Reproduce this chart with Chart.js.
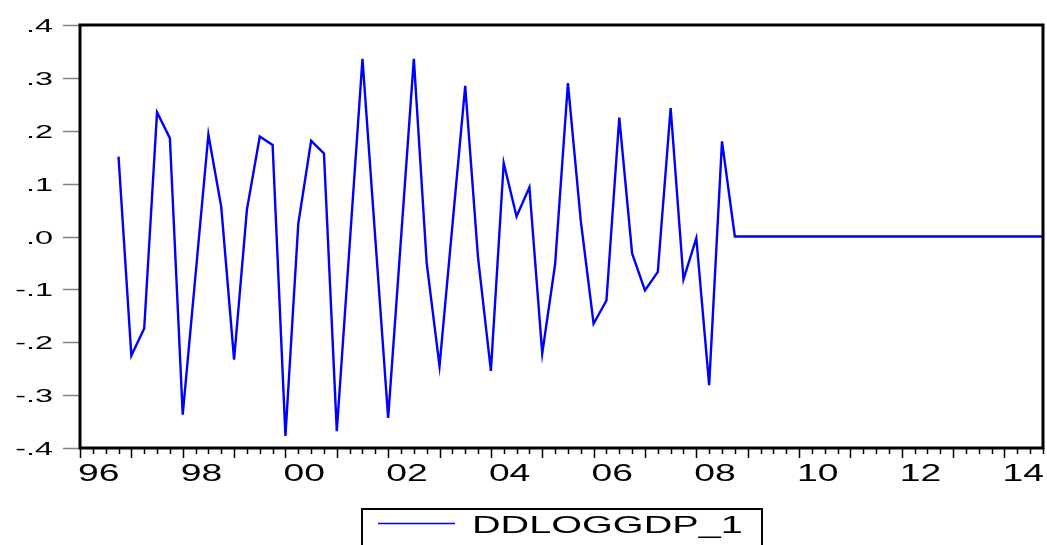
<!DOCTYPE html>
<html>
<head>
<meta charset="utf-8">
<script src="https://cdn.jsdelivr.net/npm/chart.js@4"></script>
<style>
  body { margin: 0; background: #fff; }
  canvas { display: block; }
</style>
</head>
<body>
<canvas id="grafico" width="1047" height="545"></canvas>
<script>
// ===== DADOS =====
const anos = ['1996','1997','1998','1999','2000','2001','2002','2003','2004','2005',
              '2006','2007','2008','2009','2010','2011','2012','2013','2014'];
const trimestres = [];
anos.forEach(a => ['Q1','Q2','Q3','Q4'].forEach(q => trimestres.push(a + q)));

const ddloggdp = [
  null, null, null, 0.151,          // 1996
  -0.225, -0.174, 0.235, 0.186,     // 1997
  -0.337, -0.072, 0.193, 0.056,     // 1998
  -0.233, 0.051, 0.189, 0.173,      // 1999
  -0.377, 0.024, 0.181, 0.157,      // 2000
  -0.368, -0.016, 0.336, -0.004,    // 2001
  -0.343, -0.004, 0.336, -0.050,    // 2002
  -0.245, 0.020, 0.285, -0.040,     // 2003
  -0.254, 0.139, 0.038, 0.093,      // 2004
  -0.221, -0.053, 0.290, 0.030,     // 2005
  -0.165, -0.121, 0.225, -0.032,    // 2006
  -0.102, -0.067, 0.243, -0.081,    // 2007
  -0.003, -0.281, 0.180, 0.000,     // 2008
  0, 0, 0, 0,  0, 0, 0, 0,  0, 0, 0, 0,   // 2009-2011
  0, 0, 0, 0,  0, 0, 0, 0,  0, 0, 0, 0    // 2012-2014
];

const yTicks = [0.4, 0.3, 0.2, 0.1, 0, -0.1, -0.2, -0.3, -0.4];
const yRotulos = ['.4', '.3', '.2', '.1', '.0', '-.1', '-.2', '-.3', '-.4'];
const xRotulos = ['96', '98', '00', '02', '04', '06', '08', '10', '12', '14'];
const xRotuloTrim = ['1996Q1','1998Q1','2000Q1','2002Q1','2004Q1','2006Q1','2008Q1','2010Q1','2012Q1','2014Q1'];
const nomeSerie = 'DDLOGGDP_1';

// ===== TEXTO ESTICADO (estilo EViews) =====
function textoEsticado(ctx, txt, x, y, tam, sx, align) {
  ctx.save();
  ctx.font = tam + 'px "Liberation Sans", Arial, sans-serif';
  ctx.fillStyle = '#000';
  ctx.textBaseline = 'alphabetic';
  const w = ctx.measureText(txt).width * sx;
  let x0 = x;
  if (align === 'right') x0 = x - w;
  if (align === 'center') x0 = x - w / 2;
  ctx.translate(x0, y);
  ctx.scale(sx, 1);
  ctx.fillText(txt, 0, 0);
  ctx.restore();
}

// ===== EIXOS, MOLDURA E LEGENDA =====
const eixosEViews = {
  id: 'eixosEViews',
  afterDraw(chart) {
    const ctx = chart.ctx;
    const area = chart.chartArea;
    const sx = chart.scales.x, sy = chart.scales.y;

    // marcas do eixo y
    ctx.save();
    ctx.strokeStyle = '#808080';
    ctx.lineWidth = 1.5;
    yTicks.forEach((v, i) => {
      const y = Math.round(sy.getPixelForValue(v)) + 0.5;
      ctx.beginPath();
      ctx.moveTo(area.left - 17, y);
      ctx.lineTo(area.left, y);
      ctx.stroke();
      textoEsticado(ctx, yRotulos[i], 53, y + 6.5, 18, 1.8, 'right');
    });
    ctx.restore();

    // marcas do eixo x (trimestres e anos)
    ctx.save();
    ctx.strokeStyle = '#000';
    ctx.lineWidth = 1.5;
    trimestres.forEach((t, i) => {
      const x = Math.round(sx.getPixelForValue(i)) + 0.5;
      const len = t.endsWith('Q1') ? 10 : 6;
      ctx.beginPath();
      ctx.moveTo(x, area.bottom);
      ctx.lineTo(x, area.bottom + len);
      ctx.stroke();
    });
    ctx.restore();
    xRotulos.forEach((r, i) => {
      const x = sx.getPixelForValue(trimestres.indexOf(xRotuloTrim[i]));
      textoEsticado(ctx, r, x - 2, 481, 23, 1.62, 'left');
    });

    // moldura
    ctx.save();
    ctx.strokeStyle = '#000';
    ctx.lineWidth = 3;
    ctx.strokeRect(area.left, area.top, area.right - area.left, area.bottom - area.top);
    ctx.restore();

    // legenda
    ctx.save();
    ctx.strokeStyle = '#000';
    ctx.lineWidth = 2;
    ctx.strokeRect(362, 509, 400, 60);
    ctx.strokeStyle = '#0000FF';
    ctx.lineWidth = 1.5;
    ctx.beginPath();
    ctx.moveTo(378, 523.5);
    ctx.lineTo(455, 523.5);
    ctx.stroke();
    ctx.restore();
    textoEsticado(ctx, nomeSerie, 472, 533, 24, 1.65, 'left');
  }
};

// ===== GRAFICO =====
new Chart(document.getElementById('grafico').getContext('2d'), {
  type: 'line',
  data: {
    labels: trimestres,
    datasets: [{
      label: nomeSerie,
      data: ddloggdp,
      borderColor: '#0000FF',
      borderWidth: 2.4,
      borderJoinStyle: 'miter',
      pointRadius: 0,
      tension: 0,
      fill: false
    }]
  },
  options: {
    responsive: false,
    animation: false,
    layout: { padding: { left: 80, top: 25, right: 4, bottom: 97 } },
    plugins: {
      legend: { display: false },
      tooltip: { enabled: false }
    },
    scales: {
      x: { type: 'category', offset: false, display: false },
      y: { min: -0.4, max: 0.4, display: false }
    }
  },
  plugins: [eixosEViews]
});
</script>
</body>
</html>
